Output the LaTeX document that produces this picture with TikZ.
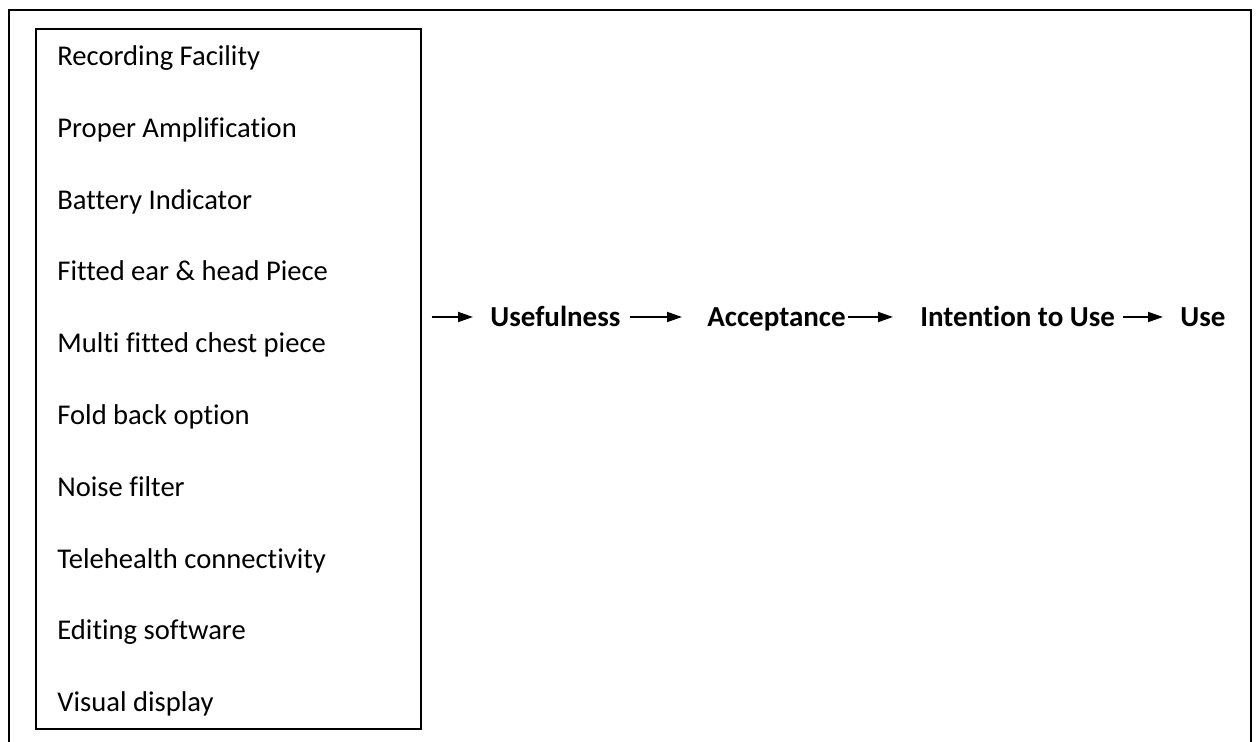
\documentclass[tikz,border=0pt]{standalone}
\usepackage{fontspec}
\setmainfont[Ligatures=NoCommon]{Carlito}
\usetikzlibrary{arrows.meta}
\begin{document}
\begin{tikzpicture}[x=0.5pt,y=-0.5pt,
  frame/.style={line width=1pt},
  listbox/.style={draw,line width=0.8pt,inner sep=0pt,minimum width=192.5pt,minimum height=350pt,anchor=north west},
  item/.style={anchor=base west,inner sep=0pt,font=\fontsize{14.3}{17}\selectfont},
  stage/.style={anchor=base west,inner sep=0pt,font=\fontsize{14.5}{17}\selectfont\bfseries},
  flow/.style={line width=0.9pt,-{Triangle[length=7.5pt,width=5pt]}}]
\useasboundingbox (0,0) rectangle (1258,742);
% outer frame, open at the bottom
\draw[frame] (9,742) -- (9,10) -- (1251,10) -- (1251,742);
% list of features
\node[listbox] (list) at (35,28) {};
\foreach \txt [count=\i from 0] in {Recording Facility,Proper Amplification,Battery Indicator,Fitted ear \& head Piece,Multi fitted chest piece,Fold back option,Noise filter,Telehealth connectivity,Editing software,Visual display}
  \node[item] (f\i) at (57,65.5+71.8*\i) {\txt};
% chain of stages
\coordinate (row) at (0,317);
\node[stage] (useful) at (490,327) {Usefulness};
\node[stage] (accept) at (707,327) {Acceptance};
\node[stage] (intent) at (920,327) {Intention to Use};
\node[stage] (use) at (1180,327) {Use};
\draw[flow,shorten <=5pt,shorten >=8.5pt] (list.east |- row) -- (useful.west |- row);
\draw[flow,shorten <=4.5pt,shorten >=12.5pt] (useful.east |- row) -- (accept.west |- row);
\draw[flow,shorten <=1pt,shorten >=13.5pt] (accept.east |- row) -- (intent.west |- row);
\draw[flow,shorten <=4pt,shorten >=8.5pt] (intent.east |- row) -- (use.west |- row);
\end{tikzpicture}
\end{document}
